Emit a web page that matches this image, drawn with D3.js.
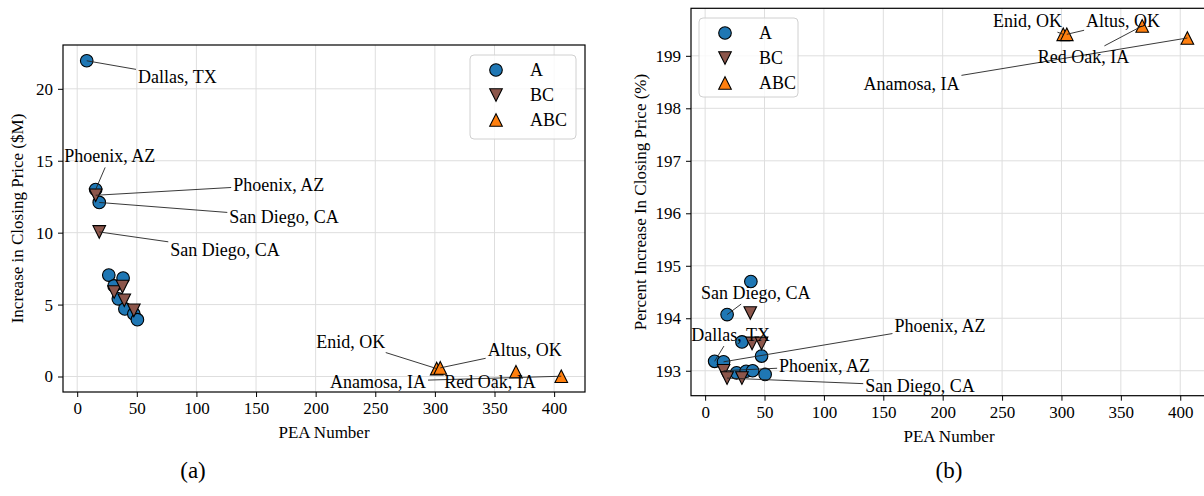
<!DOCTYPE html>
<html>
<head>
<meta charset="utf-8">
<script src="https://cdn.jsdelivr.net/npm/d3@7"></script>
<style>
  body { margin: 0; background: #fff; }
  svg text { font-family: "Liberation Serif", "DejaVu Serif", serif; fill: #000; }
</style>
</head>
<body>
<svg id="chart" width="1204" height="496" font-family="Liberation Serif"></svg>
<script>
// ---------- data ----------
const seriesNames = ["A", "BC", "ABC"];
const xA   = [8, 15.5, 18.5, 26.5, 31, 34.5, 38.5, 40, 47.5, 50.5];
const yA_M = [21.95, 13.0, 12.1, 7.05, 6.3, 5.4, 6.85, 4.7, 4.35, 3.95];
const yA_pct = [193.18, 193.17, 194.07, 192.96, 193.55, 192.99, 194.7, 193.0, 193.28, 192.93];

const xBC   = [15.5, 18.5, 31, 38, 39.5, 47.5];
const yBC_M = [12.6, 10.05, 5.87, 6.25, 5.3, 4.6];
const yBC_pct = [193.0, 192.86, 192.86, 194.1, 193.52, 193.52];

const xABC   = [301.5, 304.5, 368, 406];
const yABC_M = [0.55, 0.6, 0.33, 0.02];
const yABC_pct = [199.41, 199.41, 199.57, 199.34];

const xTicks = [0, 50, 100, 150, 200, 250, 300, 350, 400];
const yTicksM = [0, 5, 10, 15, 20];
const yTicksPct = [193, 194, 195, 196, 197, 198, 199];

// annotations: label, series, index, text position (data coords)
const annotM = [
  ["Dallas, TX", "A", 0, 84, 20.85],
  ["Phoenix, AZ", "A", 1, 27.4, 15.3],
  ["Phoenix, AZ", "BC", 0, 169, 13.33],
  ["San Diego, CA", "A", 2, 173.5, 11.1],
  ["San Diego, CA", "BC", 1, 124, 8.8],
  ["Enid, OK", "ABC", 0, 229.5, 2.43],
  ["Altus, OK", "ABC", 1, 375.3, 1.84],
  ["Anamosa, IA", "ABC", 3, 252.3, -0.35],
  ["Red Oak, IA", "ABC", 2, 346.2, -0.35]
];
const annotPct = [
  ["Enid, OK", "ABC", 0, 271.4, 199.66],
  ["Altus, OK", "ABC", 1, 351.9, 199.66],
  ["Red Oak, IA", "ABC", 2, 318.6, 198.98],
  ["Anamosa, IA", "ABC", 3, 173.7, 198.47],
  ["San Diego, CA", "A", 2, 42.7, 194.48],
  ["Dallas, TX", "A", 0, 21.5, 193.68],
  ["Phoenix, AZ", "A", 1, 197.7, 193.86],
  ["Phoenix, AZ", "BC", 0, 100.6, 193.09],
  ["San Diego, CA", "BC", 1, 180.9, 192.71]
];

// ---------- styles ----------
const FONT = "Liberation Serif, DejaVu Serif, serif";
const colors = { A: "#1f77b4", BC: "#8c564b", ABC: "#ff7f0e" };
const shapes = { A: "circle", BC: "down", ABC: "up" };

const svg = d3.select("#chart");

function padDomain(vals) {
  const [lo, hi] = d3.extent(vals);
  const p = (hi - lo) * 0.05;
  return [lo - p, hi + p];
}

function markerPath(shape, r) {
  if (shape === "up") return `M0,${-r}L${-r},${r}L${r},${r}Z`;
  return `M0,${r}L${-r},${-r}L${r},${-r}Z`;
}

function drawMarker(g, shape, color, x, y) {
  if (shape === "circle") {
    g.append("circle").attr("cx", x).attr("cy", y).attr("r", 6.3)
      .attr("fill", color).attr("stroke", "#000").attr("stroke-width", 1.1);
  } else {
    g.append("path").attr("d", markerPath(shape, 6.3))
      .attr("transform", `translate(${x},${y})`)
      .attr("fill", color).attr("stroke", "#000").attr("stroke-width", 1.1)
      .attr("stroke-linejoin", "miter");
  }
}

function panel(opts) {
  const { x0, x1, y0, y1, series, yTicks, ylabel, annots, legend, ylabelX } = opts;
  const allX = series.flatMap(s => s.x);
  const allY = series.flatMap(s => s.y);
  const x = d3.scaleLinear().domain(padDomain(allX)).range([x0, x1]);
  const y = d3.scaleLinear().domain(padDomain(allY)).range([y1, y0]);

  const g = svg.append("g");
  // grid
  g.append("g").selectAll("line").data(xTicks).join("line")
    .attr("x1", d => x(d)).attr("x2", d => x(d)).attr("y1", y0).attr("y2", y1)
    .attr("stroke", "#dedede").attr("stroke-width", 1);
  g.append("g").selectAll("line").data(yTicks).join("line")
    .attr("y1", d => y(d)).attr("y2", d => y(d)).attr("x1", x0).attr("x2", x1)
    .attr("stroke", "#dedede").attr("stroke-width", 1);

  // axes
  const ax = g.append("g").attr("transform", `translate(0,${y1})`)
    .call(d3.axisBottom(x).tickValues(xTicks).tickSize(5).tickPadding(5).tickFormat(d3.format("d")));
  const ay = g.append("g").attr("transform", `translate(${x0},0)`)
    .call(d3.axisLeft(y).tickValues(yTicks).tickSize(5).tickPadding(5).tickFormat(d3.format("d")));
  [ax, ay].forEach(a => {
    a.attr("font-family", FONT).attr("font-size", 17);
    a.select(".domain").remove();
    a.selectAll("text").attr("font-family", FONT).attr("font-size", 17).attr("fill", "#000");
    a.selectAll("line").attr("stroke", "#000").attr("stroke-width", 1);
  });

  // spines
  g.append("rect").attr("x", x0).attr("y", y0).attr("width", x1 - x0).attr("height", y1 - y0)
    .attr("fill", "none").attr("stroke", "#000").attr("stroke-width", 1.2);

  // labels
  g.append("text").attr("x", opts.xlabelX).attr("y", y1 + 46)
    .attr("text-anchor", "middle").attr("font-family", FONT).attr("font-size", 17).text("PEA Number");
  g.append("text").attr("transform", `translate(${ylabelX},${(y0 + y1) / 2}) rotate(-90)`)
    .attr("text-anchor", "middle").attr("dominant-baseline", "central")
    .attr("font-family", FONT).attr("font-size", 17).text(ylabel);

  // points
  const pos = {};
  const mg = g.append("g");
  series.forEach(s => {
    pos[s.name] = s.x.map((v, i) => [x(v), y(s.y[i])]);
    s.x.forEach((v, i) => drawMarker(mg, shapes[s.name], colors[s.name], x(v), y(s.y[i])));
  });

  // annotations
  const ag = g.append("g");
  annots.forEach(([label, sname, idx, tx, ty]) => {
    const [px, py] = pos[sname][idx];
    const cx = x(tx), cy = y(ty);
    const t = ag.append("text").attr("x", cx).attr("y", cy)
      .attr("text-anchor", "middle").attr("dominant-baseline", "central")
      .attr("font-family", FONT).attr("font-size", 18).text(label);
    const bb = t.node().getBBox();
    const hw = bb.width / 2 + 2, hh = bb.height / 2 + 1;
    const dx = px - cx, dy = py - cy;
    const tt = Math.min(dx !== 0 ? hw / Math.abs(dx) : Infinity, dy !== 0 ? hh / Math.abs(dy) : Infinity);
    if (tt < 1) {
      ag.insert("line", "text").attr("x1", cx + dx * tt).attr("y1", cy + dy * tt)
        .attr("x2", px).attr("y2", py)
        .attr("stroke", "#222").attr("stroke-width", 0.9);
    }
  });

  // legend
  const lg = g.append("g");
  lg.append("rect").attr("x", legend.x).attr("y", legend.y).attr("width", legend.w).attr("height", legend.h)
    .attr("rx", 4).attr("fill", "#fff").attr("fill-opacity", 0.8)
    .attr("stroke", "#d0d0d0").attr("stroke-width", 1);
  seriesNames.forEach((n, i) => {
    const ry = legend.y + 15 + i * 25;
    drawMarker(lg, shapes[n], colors[n], legend.x + 26, ry);
    lg.append("text").attr("x", legend.x + 60).attr("y", ry).attr("dominant-baseline", "central")
      .attr("font-family", FONT).attr("font-size", 18).text(n);
  });
}

panel({
  x0: 63, x1: 585, y0: 45, y1: 392,
  series: [
    { name: "A", x: xA, y: yA_M },
    { name: "BC", x: xBC, y: yBC_M },
    { name: "ABC", x: xABC, y: yABC_M }
  ],
  yTicks: yTicksM,
  ylabel: "Increase in Closing Price ($M)",
  ylabelX: 17,
  xlabelX: 324,
  annots: annotM,
  legend: { x: 470, y: 55, w: 106, h: 84 }
});

panel({
  x0: 691, x1: 1211, y0: 8.3, y1: 395.7,
  series: [
    { name: "A", x: xA, y: yA_pct },
    { name: "BC", x: xBC, y: yBC_pct },
    { name: "ABC", x: xABC, y: yABC_pct }
  ],
  yTicks: yTicksPct,
  ylabel: "Percent Increase In Closing Price (%)",
  ylabelX: 640,
  xlabelX: 949,
  annots: annotPct,
  legend: { x: 699, y: 18, w: 99, h: 79 }
});

// sub captions
svg.append("text").attr("x", 193).attr("y", 470).attr("text-anchor", "middle")
  .attr("dominant-baseline", "central").attr("font-family", FONT).attr("font-size", 23).text("(a)");
svg.append("text").attr("x", 949).attr("y", 470).attr("text-anchor", "middle")
  .attr("dominant-baseline", "central").attr("font-family", FONT).attr("font-size", 23).text("(b)");
</script>
</body>
</html>
